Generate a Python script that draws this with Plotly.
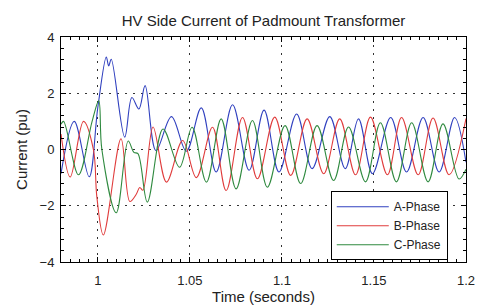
import plotly.graph_objects as go

# ---- data (extrema of each phase) ----
a_time = [0.9800, 0.9872, 0.9953, 1.0000, 1.0046, 1.0059, 1.0073, 1.0146, 1.0185, 1.0223,
          1.0257, 1.0316, 1.0400, 1.0481, 1.0562, 1.0643, 1.0732, 1.0822, 1.0903, 1.0984,
          1.1080, 1.1164, 1.1260, 1.1344, 1.1416, 1.1492, 1.1591, 1.1677, 1.1767, 1.1854,
          1.1938, 1.2000]
a_current = [-0.86, 1.00, -0.97, 1.50, 3.29, 2.97, 3.21, 0.44, 1.85, 1.44,
             2.27, -0.04, 1.17, -0.06, 1.48, -0.80, 1.59, -0.74, 1.40, -0.80,
             1.26, -0.68, 1.17, -0.68, 1.09, -0.86, 1.14, -0.80, 1.14, -0.80,
             1.14, -0.45]

b_time = [0.9800, 0.9850, 0.9922, 0.9976, 0.9995, 1.0030, 1.0126, 1.0174, 1.0208, 1.0228,
          1.0245, 1.0300, 1.0373, 1.0461, 1.0535, 1.0623, 1.0697, 1.0786, 1.0867, 1.0961,
          1.1048, 1.1137, 1.1227, 1.1314, 1.1400, 1.1481, 1.1573, 1.1650, 1.1740, 1.1821,
          1.1908, 1.2000]
b_current = [0.55, -0.98, 1.00, 0.00, -1.70, -3.04, 0.38, -1.85, -1.60, -1.35,
             -1.45, 0.80, -1.16, 0.32, -1.00, 0.79, -1.46, 1.14, -1.04, 1.15,
             -0.92, 1.09, -0.86, 1.09, -0.90, 1.15, -0.90, 1.14, -0.90, 1.12,
             -0.90, 1.10]

c_time = [0.9800, 0.9814, 0.9895, 0.9969, 1.0005, 1.0022, 1.0100, 1.0165, 1.0196, 1.0218,
          1.0269, 1.0354, 1.0444, 1.0512, 1.0590, 1.0670, 1.0751, 1.0840, 1.0921, 1.1017,
          1.1102, 1.1191, 1.1281, 1.1362, 1.1454, 1.1535, 1.1622, 1.1705, 1.1794, 1.1875,
          1.1962, 1.2000]
c_current = [0.90, 1.00, -0.90, 1.00, 1.73, 0.00, -2.25, 0.30, -0.10, -0.15,
             -1.87, 0.73, -0.63, 0.79, -1.16, 1.09, -1.40, 1.03, -1.34, 0.85,
             -1.21, 0.85, -1.10, 0.80, -1.15, 0.95, -1.15, 0.95, -1.15, 0.91,
             -1.05, -0.70]

x_ticks = [1, 1.05, 1.1, 1.15, 1.2]
x_tick_labels = ["1", "1.05", "1.1", "1.15", "1.2"]
y_ticks = [-4, -2, 0, 2, 4]
y_tick_labels = ["\u22124", "\u22122", "0", "2", "4"]

series = [
    ("A-Phase", a_time, a_current, "#3040bf"),
    ("B-Phase", b_time, b_current, "#e03c3c"),
    ("C-Phase", c_time, c_current, "#2f8a3f"),
]

fig = go.Figure()
for name, t, v, col in series:
    fig.add_trace(go.Scatter(x=t, y=v, name=name, mode="lines",
                             line=dict(color=col, width=1.1, shape="spline", smoothing=1.0)))

font_family = "Liberation Sans, Arial, sans-serif"
text_col = "#222"
axis_common = dict(
    showline=True, linecolor="black", linewidth=1, mirror="allticks",
    ticks="inside", ticklen=5, tickcolor="black",
    showgrid=True, gridcolor="#333", griddash="2px,6px", gridwidth=1,
    zeroline=False, automargin=False, ticklabeloverflow="allow",
    tickfont=dict(size=13, color=text_col, family=font_family),
)

fig.update_xaxes(range=[0.98, 1.2], tickvals=x_ticks, ticktext=x_tick_labels,
                 ticklabelstandoff=6,
                 minor=dict(dtick=0.005, ticks="inside", ticklen=3, tickcolor="black", showgrid=False),
                 title=dict(text="Time (seconds)", font=dict(size=15, color=text_col, family=font_family), standoff=3),
                 **axis_common)
fig.update_yaxes(range=[-4, 4], tickvals=y_ticks, ticktext=y_tick_labels,
                 ticklabelstandoff=3,
                 minor=dict(dtick=0.4, ticks="inside", ticklen=3, tickcolor="black", showgrid=False),
                 title=dict(text="Current (pu)", font=dict(size=15, color=text_col, family=font_family), standoff=8),
                 **axis_common)

fig.update_layout(
    width=482, height=305,
    margin=dict(l=61, r=16, t=37, b=43),
    paper_bgcolor="white", plot_bgcolor="white",
    title=dict(text="HV Side Current of Padmount Transformer", x=0.5, xref="paper",
               y=0.932, yanchor="middle",
               font=dict(size=15, color=text_col, family=font_family)),
    legend=dict(x=0.955, y=0.008, xanchor="right", yanchor="bottom",
                bgcolor="white", bordercolor="black", borderwidth=1,
                font=dict(size=12, color=text_col, family=font_family),
                tracegroupgap=0, itemwidth=52),
    showlegend=True,
)

fig.write_html("out.html",
               config={"displayModeBar": False},
               post_script="document.body.style.margin='0';document.body.style.overflow='hidden';")
